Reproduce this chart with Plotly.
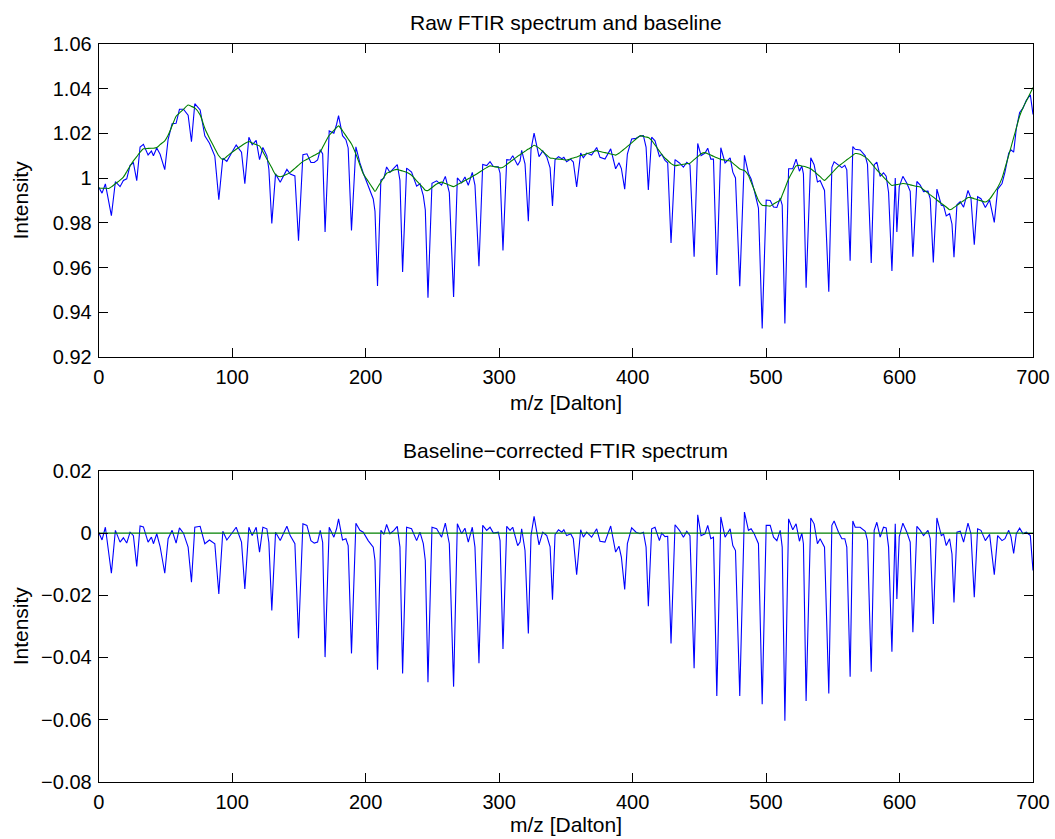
import numpy as np
import plotly.graph_objects as go

# ---------------- data ----------------
mz = [0, 2.5, 5, 7.5, 9.5, 12.5, 16, 18.5, 21, 23.5, 26, 28.5, 31, 33.5, 37, 39.5, 41, 43.5, 46, 49.5,
      52, 55, 58, 60.5, 63.5, 67, 69.5, 72, 76, 79.5, 83, 87, 90, 93, 96, 99.5, 103, 107, 109.5, 112.5,
      115, 118, 120.5, 123, 126, 127.5, 129.7, 132.5, 136, 141, 143.5, 147, 149.7, 153, 156, 159, 161.5, 164, 166, 167.8,
      169.6, 172.7, 176.2, 178.2, 179.7, 182.7, 185.2, 186.9, 189.4, 192.7, 195.7, 198.2, 201.9, 205.7, 207, 208.9,
      211.4, 213.7, 215.7, 218.2, 221.2, 223.7, 225.7, 227.7, 230.7, 234.4, 238.2, 240.7, 243.2, 244.7, 246.7, 249.7,
      253.2, 256.9, 259.7, 262.7, 265.9, 268.7, 271.9, 274.4, 276.9, 279.9, 281.9, 284.9, 287.7, 290.7, 293.2, 295.7,
      299.4, 300.7, 302.9, 305.7, 308.2, 310.2, 313.9, 315.7, 316.9, 319.4, 321.9, 323.9, 326.2, 329.9, 332.7, 335.7,
      338.2, 340, 341.9, 344.5, 347, 348.5, 350.6, 353.6, 355.6, 358.1, 361.1, 363.1, 365.6, 369.3, 373.1, 375.6,
      379.3, 383.6, 387.3, 389.8, 391.6, 394.1, 396.1, 399.3, 402.6, 405.6, 408.1, 410.1, 411.8, 414.3, 416.8, 420.1,
      421.8, 424.3, 426.3, 428.8, 431.8, 435.1, 438.1, 440.6, 443, 446.1, 448.8, 451.3, 454.3, 456.3, 458.6, 460.6,
      463.1, 466.1, 469.3, 473.1, 475.1, 477.1, 480.3, 483.8, 486.8, 488.8, 491.1, 494.3, 497.1, 500.1, 503.1, 505.6,
      508.1, 510.6, 512.1, 514.1, 516.9, 520, 522.5, 525, 526.8, 528, 530, 533.5, 536, 538.5, 540.5, 543.8,
      547, 549.3, 551, 554.3, 556.8, 559, 560.5, 563, 565, 566.8, 570.5, 574.3, 576, 578.8, 581, 583,
      585.5, 588, 590, 591.8, 594.3, 596.8, 598, 599.8, 602.5, 605.5, 608, 610, 613, 615.5, 618, 621.3,
      623, 625.3, 628, 631.3, 633, 635, 637.5, 639.3, 640.8, 643, 645.5, 648, 651.3, 653.5, 656, 658.5,
      661, 664.3, 667.5, 671, 673.5, 676.8, 679, 681.8, 683.5, 685.5, 687.5, 690, 692.5, 695, 698, 700]

corrected = [0.0003, -0.0022, 0.0019, -0.006, -0.0129, 0.0009, -0.0029, -0.0015, -0.0032, 0.0003, -0.0008, -0.0107, 0.0023, 0.0020, -0.0029, -0.0013, -0.0034, -0.0002, -0.0043, -0.0129,
             -0.0018, 0.0009, -0.0032, 0.0017, 0.0000, -0.0045, -0.0158, 0.0019, 0.0022, -0.0034, -0.0022, -0.0034, -0.0196, 0.0006, -0.0022, -0.0002, 0.0019, -0.0029, -0.0180, 0.0019,
             -0.0008, 0.0019, -0.0061, 0.0019, 0.0014, -0.0030, -0.0249, 0.0003, -0.0024, 0.0022, -0.0008, -0.0034, -0.0338, 0.0030, 0.0025, -0.0024, -0.0032, -0.0029, 0.0009, -0.0030,
             -0.0399, 0.0019, -0.0013, 0.0014, 0.0046, -0.0022, -0.0018, -0.0040, -0.0387, 0.0032, 0.0009, 0.0003, -0.0024, -0.0045, -0.0088, -0.0440,
             0.0009, -0.0004, 0.0028, -0.0002, 0.0009, 0.0022, -0.0045, -0.0452, 0.0019, 0.0014, -0.0024, 0.0003, -0.0034, -0.0088, -0.0480, 0.0019,
             0.0014, -0.0013, 0.0032, -0.0034, -0.0494, 0.0030, -0.0002, 0.0016, -0.0029, 0.0019, -0.0045, -0.0419, 0.0025, 0.0009, 0.0019, 0.0000,
             0.0003, -0.0024, -0.0373, 0.0022, 0.0009, 0.0019, -0.0040, -0.0029, 0.0014, -0.0056, -0.0323, -0.0008, 0.0054, -0.0038, 0.0003, -0.0008,
             -0.0044, -0.0214, -0.0005, 0.0011, 0.0003, 0.0011, -0.0008, -0.0002, -0.0018, -0.0134, 0.0011, -0.0013, 0.0003, -0.0013, 0.0014, -0.0026,
             -0.0029, 0.0023, -0.0061, -0.0042, -0.0077, -0.0181, -0.0034, 0.0017, 0.0003, -0.0002, 0.0003, -0.0045, -0.0235, 0.0014, 0.0019, -0.0024,
             0.0000, -0.0011, -0.0010, -0.0355, 0.0027, 0.0009, -0.0013, 0.0006, -0.0008, -0.0435, 0.0059, -0.0008, -0.0002, 0.0025, -0.0018, -0.0013,
             -0.0524, 0.0052, -0.0013, 0.0014, -0.0040, -0.0056, -0.0524, 0.0068, 0.0009, 0.0014, -0.0002, -0.0034, -0.0551, 0.0025, 0.0025, -0.0013,
             -0.0024, 0.0009, -0.0045, -0.0604, 0.0046, 0.0011, 0.0030, -0.0026, 0.0000, -0.0034, -0.0540, 0.0049, 0.0030, -0.0034, -0.0018, -0.0045,
             -0.0516, 0.0025, 0.0039, 0.0003, -0.0018, -0.0018, -0.0045, -0.0462, 0.0039, 0.0019, 0.0019, 0.0006, -0.0024, -0.0446, 0.0009, 0.0035,
             -0.0013, 0.0019, 0.0017, -0.0045, -0.0382, 0.0030, -0.0212, -0.0011, 0.0032, 0.0003, -0.0029, -0.0319, 0.0022, 0.0009, -0.0008, 0.0009,
             -0.0018, -0.0292, 0.0049, -0.0008, -0.0003, -0.0040, -0.0018, -0.0067, -0.0223, 0.0003, 0.0006, -0.0029, 0.0032, -0.0002, -0.0206, 0.0014,
             0.0009, -0.0024, -0.0004, -0.0134, -0.0008, -0.0024, -0.0018, 0.0009, -0.0011, -0.0065, -0.0002, 0.0016, -0.0002, 0.0003, -0.0008, -0.0120]

baseline = [0.9956, 0.9955, 0.9955, 0.9954, 0.9961, 0.9975, 0.9991, 1.0005, 1.0029, 1.0054, 1.0077, 1.0096, 1.0116, 1.0131, 1.0133, 1.0134, 1.0134, 1.0137, 1.0150, 1.0167,
            1.0192, 1.0234, 1.0277, 1.0291, 1.0308, 1.0327, 1.0321, 1.0314, 1.0283, 1.0223, 1.0178, 1.0133, 1.0100, 1.0083, 1.0097, 1.0114, 1.0129, 1.0145, 1.0155, 1.0164,
            1.0157, 1.0150, 1.0144, 1.0118, 1.0086, 1.0070, 1.0046, 1.0016, 1.0006, 1.0017, 1.0026, 1.0044, 1.0058, 1.0075, 1.0084, 1.0094, 1.0102, 1.0110, 1.0118, 1.0138,
            1.0158, 1.0192, 1.0214, 1.0226, 1.0234, 1.0212, 1.0190, 1.0175, 1.0153, 1.0108, 1.0059, 1.0020, 0.9986, 0.9952, 0.9940, 0.9958,
            0.9982, 1.0004, 1.0022, 1.0028, 1.0036, 1.0039, 1.0035, 1.0032, 1.0026, 1.0013, 0.9988, 0.9972, 0.9956, 0.9946, 0.9945, 0.9958,
            0.9974, 0.9982, 0.9976, 0.9969, 0.9962, 0.9971, 0.9981, 0.9989, 0.9997, 1.0007, 1.0014, 1.0025, 1.0036, 1.0047, 1.0055, 1.0052,
            1.0048, 1.0046, 1.0049, 1.0061, 1.0072, 1.0081, 1.0098, 1.0105, 1.0110, 1.0120, 1.0130, 1.0137, 1.0147, 1.0134, 1.0119, 1.0103,
            1.0090, 1.0089, 1.0087, 1.0085, 1.0084, 1.0082, 1.0081, 1.0087, 1.0090, 1.0095, 1.0101, 1.0104, 1.0109, 1.0116, 1.0123, 1.0119,
            1.0114, 1.0108, 1.0103, 1.0111, 1.0120, 1.0132, 1.0142, 1.0158, 1.0175, 1.0190, 1.0187, 1.0184, 1.0182, 1.0169, 1.0148, 1.0121,
            1.0107, 1.0090, 1.0079, 1.0065, 1.0056, 1.0059, 1.0062, 1.0065, 1.0067, 1.0083, 1.0096, 1.0109, 1.0114, 1.0109, 1.0103, 1.0098,
            1.0091, 1.0084, 1.0081, 1.0077, 1.0067, 1.0057, 1.0041, 1.0034, 1.0012, 0.9982, 0.9948, 0.9900, 0.9879, 0.9877, 0.9875, 0.9884,
            0.9893, 0.9902, 0.9924, 0.9954, 0.9996, 1.0031, 1.0055, 1.0057, 1.0054, 1.0053, 1.0050, 1.0042, 1.0030, 1.0017, 1.0007, 0.9990,
            1.0008, 1.0023, 1.0034, 1.0054, 1.0065, 1.0075, 1.0082, 1.0093, 1.0102, 1.0110, 1.0107, 1.0094, 1.0086, 1.0067, 1.0051, 1.0037,
            1.0021, 1.0005, 0.9992, 0.9981, 0.9967, 0.9970, 0.9971, 0.9973, 0.9976, 0.9974, 0.9970, 0.9967, 0.9963, 0.9960, 0.9948, 0.9933,
            0.9925, 0.9915, 0.9902, 0.9887, 0.9880, 0.9871, 0.9859, 0.9862, 0.9869, 0.9878, 0.9889, 0.9899, 0.9913, 0.9913, 0.9908, 0.9903,
            0.9899, 0.9893, 0.9906, 0.9936, 0.9958, 1.0000, 1.0045, 1.0102, 1.0138, 1.0181, 1.0224, 1.0278, 1.0315, 1.0345, 1.0381, 1.0405]

# baseline of the corrected spectrum (flat at zero across the m/z range)
corr_base_mz = [0, 700]
corr_base = [0.0, 0.0]

# raw spectrum = baseline + baseline-corrected spectrum
raw = (np.array(baseline) + np.array(corrected)).tolist()

x_ticks = [0, 100, 200, 300, 400, 500, 600, 700]
y1_ticks = [0.92, 0.94, 0.96, 0.98, 1.00, 1.02, 1.04, 1.06]
y1_labels = ["0.92", "0.94", "0.96", "0.98", "1", "1.02", "1.04", "1.06"]
y2_ticks = [-0.08, -0.06, -0.04, -0.02, 0.0, 0.02]
y2_labels = ["\u22120.08", "\u22120.06", "\u22120.04", "\u22120.02", "0", "0.02"]

# ---------------- layout geometry (pixels) ----------------
W, H = 1055, 839
AX_L, AX_R = 98.7, 1033.0
TOP_T, TOP_B = 44.0, 357.0
BOT_T, BOT_B = 471.0, 781.7

def fx(px):
    return px / W

def fy(py):
    return 1 - py / H

FONT = "Liberation Sans, Arial, Helvetica, sans-serif"
BLUE = "#0000ff"
GREEN = "#008000"

fig = go.Figure()
fig.add_trace(go.Scatter(x=mz, y=raw, mode="lines", line=dict(color=BLUE, width=1.1),
                         xaxis="x", yaxis="y", showlegend=False, hoverinfo="skip"))
fig.add_trace(go.Scatter(x=mz, y=baseline, mode="lines", line=dict(color=GREEN, width=1.1, shape="spline", smoothing=0.6),
                         xaxis="x", yaxis="y", showlegend=False, hoverinfo="skip"))
fig.add_trace(go.Scatter(x=mz, y=corrected, mode="lines", line=dict(color=BLUE, width=1.1),
                         xaxis="x2", yaxis="y2", showlegend=False, hoverinfo="skip"))
fig.add_trace(go.Scatter(x=corr_base_mz, y=corr_base, mode="lines", line=dict(color=GREEN, width=1.1),
                         xaxis="x2", yaxis="y2", showlegend=False, hoverinfo="skip"))

common = dict(showline=True, linecolor="black", linewidth=1, mirror="ticks",
              ticks="inside", ticklen=9, tickwidth=1, tickcolor="black",
              showgrid=False, zeroline=False, automargin=False,
              tickfont=dict(family=FONT, size=20, color="black"))

fig.update_layout(
    template="none",
    width=W, height=H, autosize=False,
    margin=dict(l=0, r=0, t=0, b=0, pad=0),
    paper_bgcolor="white", plot_bgcolor="white",
    font=dict(family=FONT, size=20, color="black"),
    xaxis=dict(domain=[fx(AX_L), fx(AX_R)], range=[0, 700], tickvals=x_ticks,
               anchor="y", ticklabelstandoff=2, **common),
    yaxis=dict(domain=[fy(TOP_B), fy(TOP_T)], range=[0.92, 1.06], tickvals=y1_ticks,
               ticktext=y1_labels, anchor="x", ticklabelstandoff=2, **common),
    xaxis2=dict(domain=[fx(AX_L), fx(AX_R)], range=[0, 700], tickvals=x_ticks,
                anchor="y2", ticklabelstandoff=2, **common),
    yaxis2=dict(domain=[fy(BOT_B), fy(BOT_T)], range=[-0.08, 0.02], tickvals=y2_ticks,
                ticktext=y2_labels, anchor="x2", ticklabelstandoff=2, **common),
)

cx = fx((AX_L + AX_R) / 2)
ann = [
    dict(text="Raw FTIR spectrum and baseline", x=cx, y=fy(23), yanchor="middle"),
    dict(text="m/z [Dalton]", x=cx, y=fy(402), yanchor="middle"),
    dict(text="Baseline\u2212corrected FTIR spectrum", x=cx, y=fy(450), yanchor="middle"),
    dict(text="m/z [Dalton]", x=cx, y=fy(838), yanchor="bottom"),
    dict(text="Intensity", x=fx(20), y=fy((TOP_T + TOP_B) / 2), yanchor="middle", textangle=-90),
    dict(text="Intensity", x=fx(20), y=fy((BOT_T + BOT_B) / 2), yanchor="middle", textangle=-90),
]
for a in ann:
    fig.add_annotation(xref="paper", yref="paper", showarrow=False, xanchor="center",
                       font=dict(family=FONT, size=21, color="black"), **a)

fig.write_html("out.html", config={"displayModeBar": False, "staticPlot": True},
               post_script="document.body.style.margin='0px';document.body.style.overflow='hidden';")
